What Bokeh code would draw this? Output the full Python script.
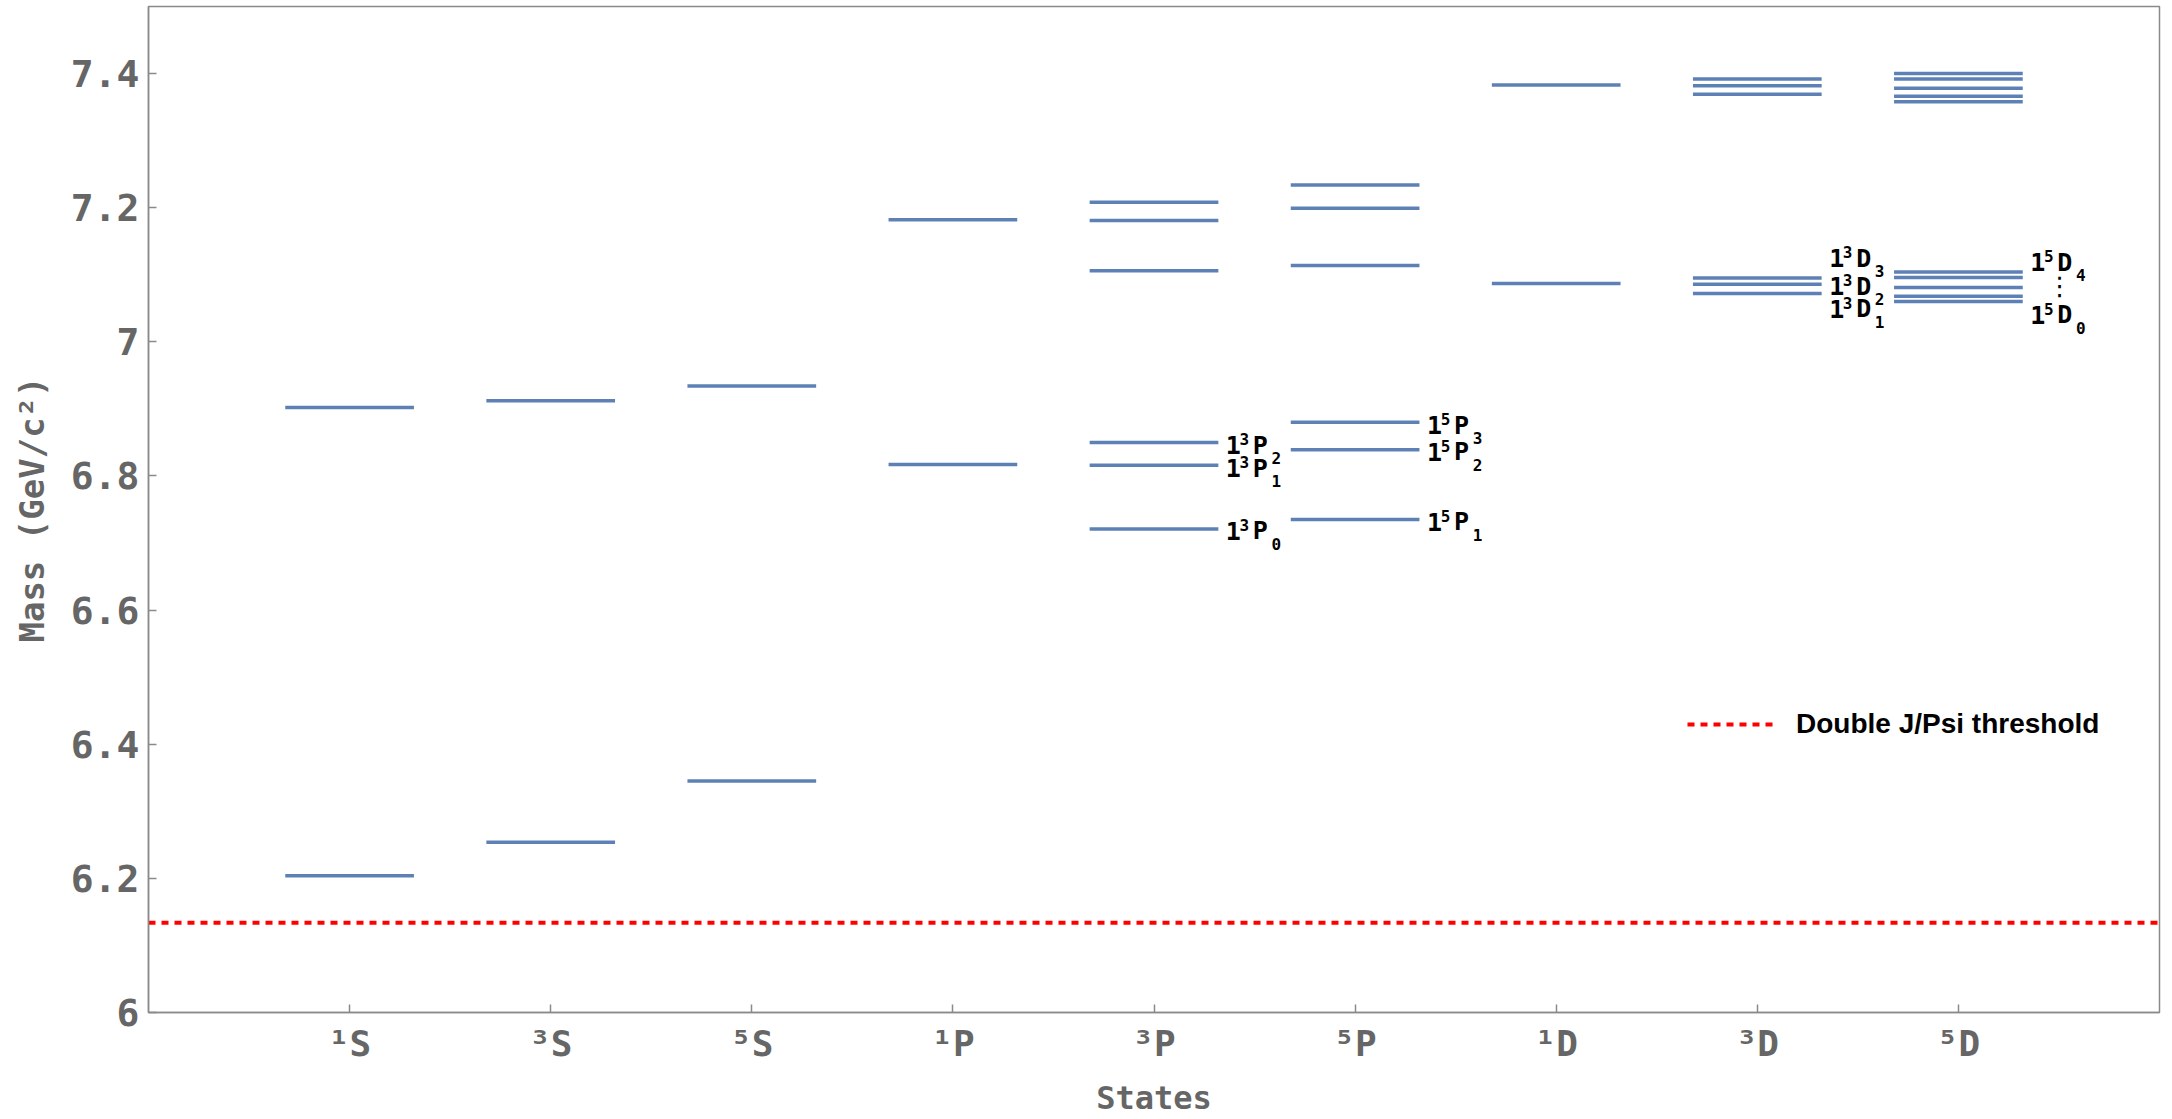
from bokeh.plotting import figure
from bokeh.models import (ColumnDataSource, FixedTicker, NumeralTickFormatter,
                          Legend, LegendItem, Range1d)
from bokeh.embed import file_html
from bokeh.resources import INLINE
from bokeh.core.properties import value

# ---------------- data ----------------
states = ["¹S", "³S", "⁵S", "¹P", "³P", "⁵P", "¹D", "³D", "⁵D"]
positions = [1, 2, 3, 4, 5, 6, 7, 8, 9]

mass_1S = [6.204, 6.902]
mass_3S = [6.254, 6.912]
mass_5S = [6.345, 6.934]
mass_1P = [6.817, 7.182]
mass_3P = [6.721, 6.816, 6.850, 7.106, 7.181, 7.208]
mass_5P = [6.735, 6.839, 6.880, 7.114, 7.199, 7.234]
mass_1D = [7.087, 7.383]
mass_3D = [7.072, 7.086, 7.095, 7.369, 7.382, 7.392]
mass_5D = [7.060, 7.068, 7.081, 7.096, 7.104, 7.358, 7.366, 7.378, 7.392, 7.400]
levels = [mass_1S, mass_3S, mass_5S, mass_1P, mass_3P, mass_5P, mass_1D, mass_3D, mass_5D]

threshold = 6.134
threshold_label = "Double J/Psi threshold"

y_ticks = [6.0, 6.2, 6.4, 6.6, 6.8, 7.0, 7.2, 7.4]
x_lo, x_hi = 0, 10
y_lo, y_hi = 6.0, 7.5

label_texts = ["1³P₂", "1³P₁", "1³P₀", "1⁵P₃", "1⁵P₂", "1⁵P₁",
               "1³D₃", "1³D₂", "1³D₁", "1⁵D₄", "1⁵D₀"]
label_state = [5, 5, 5, 6, 6, 6, 8, 8, 8, 9, 9]
label_mass = [6.850, 6.816, 6.721, 6.880, 6.839, 6.735,
              7.095, 7.086, 7.072, 7.104, 7.060]

# ---------------- styles ----------------
HALF = 0.32
BLUE = "#5E81B5"
GRAY_TXT = "#666666"
GRAY_LN = "#8a8a8a"
MONO = "DejaVu Sans Mono"
label_dy = [3, 3, 2, 3, 2, 2, -20, 2, 15, -10, 13]
LABEL_GAP = 10
SUP = {"⁰": "0", "¹": "1", "²": "2", "³": "3", "⁴": "4", "⁵": "5"}
SUB = {"₀": "0", "₁": "1", "₂": "2", "₃": "3", "₄": "4", "₅": "5"}
piece_dx = [5, 16, 32, 48]          # centre offsets of the 4 pieces (px)

x0, x1, yy = [], [], []
for pos, ms in zip(positions, levels):
    for m in ms:
        x0.append(pos - HALF)
        x1.append(pos + HALF)
        yy.append(m)
src = ColumnDataSource(dict(x0=x0, x1=x1, y=yy))

p = figure(width=2166, height=1119,
           x_range=Range1d(x_lo, x_hi), y_range=Range1d(y_lo, y_hi),
           output_backend="svg", toolbar_location=None,
           min_border_left=148, min_border_right=7,
           min_border_top=6, min_border_bottom=107)
p.xgrid.visible = False
p.ygrid.visible = False
p.outline_line_color = GRAY_LN
p.outline_line_width = 1.5

p.segment(x0="x0", y0="y", x1="x1", y1="y", source=src,
          line_color=BLUE, line_width=3.5)

thr = p.line(x=[x_lo, x_hi], y=[threshold, threshold], line_color="#ff0000",
             line_width=4, line_dash="7 6")

# state labels, built from normal / superscript / subscript pieces
main = dict(x=[], y=[], t=[], dx=[], dy=[])
script = dict(x=[], y=[], t=[], dx=[], dy=[])
for txt, st, m, dy in zip(label_texts, label_state, label_mass, label_dy):
    for k, ch in enumerate(txt):
        if ch in SUP:
            tgt, c, off = script, SUP[ch], -6
        elif ch in SUB:
            tgt, c, off = script, SUB[ch], 13
        else:
            tgt, c, off = main, ch, 0
        tgt["x"].append(st + HALF)
        tgt["y"].append(m)
        tgt["t"].append(c)
        tgt["dx"].append(LABEL_GAP + piece_dx[k])
        tgt["dy"].append(dy + off)
p.text(x="x", y="y", text="t", source=ColumnDataSource(main),
       x_offset="dx", y_offset="dy",
       text_font=value(MONO), text_font_style="bold", text_font_size="25px",
       text_color="black", text_align="center", text_baseline="middle")
p.text(x="x", y="y", text="t", source=ColumnDataSource(script),
       x_offset="dx", y_offset="dy",
       text_font=value(MONO), text_font_style="bold", text_font_size="16px",
       text_color="black", text_align="center", text_baseline="middle")

dots_src = ColumnDataSource(dict(x=[9 + HALF], y=[mass_5D[2]], t=["⋮"]))
p.text(x="x", y="y", text="t", source=dots_src, x_offset=LABEL_GAP + 27,
       y_offset=-2, text_font=value("DejaVu Sans"),
       text_font_size="26px", text_color="black",
       text_align="center", text_baseline="middle")

# axes
for ax in (p.xaxis, p.yaxis):
    ax.axis_line_color = GRAY_LN
    ax.axis_line_width = 1.5
    ax.major_tick_line_color = GRAY_LN
    ax.major_tick_line_width = 1.5
    ax.major_tick_in = 8
    ax.major_tick_out = 0
    ax.minor_tick_line_color = None
    ax.major_label_text_font = MONO
    ax.major_label_text_font_style = "bold"
    ax.major_label_text_color = GRAY_TXT
    ax.axis_label_text_font = MONO
    ax.axis_label_text_font_style = "bold"
    ax.axis_label_text_color = GRAY_TXT

p.xaxis.ticker = FixedTicker(ticks=positions)
p.xaxis.major_label_overrides = dict(zip(positions, states))
p.xaxis.major_label_text_font_size = "36px"
p.xaxis.major_label_standoff = 10
p.xaxis.axis_label = "States"
p.xaxis.axis_label_text_font_size = "32px"
p.xaxis.axis_label_standoff = 12

p.yaxis.ticker = FixedTicker(ticks=y_ticks)
p.yaxis.formatter = NumeralTickFormatter(format="0.[0]")
p.yaxis.major_label_text_font_size = "38px"
p.yaxis.major_label_standoff = 9
p.yaxis.axis_label = "Mass (GeV/c²)"
p.yaxis.axis_label_text_font_size = "34px"
p.yaxis.axis_label_standoff = 16

legend = Legend(items=[LegendItem(label=threshold_label, renderers=[thr])],
                location=(1539, 272), border_line_color=None,
                background_fill_alpha=0, padding=0, margin=0,
                glyph_width=86, glyph_height=30, label_height=30,
                label_standoff=23, label_text_font="Liberation Sans",
                label_text_font_style="bold", label_text_font_size="28px",
                label_text_color="black")
p.add_layout(legend)

open("out.html", "w").write(file_html(p, INLINE))
